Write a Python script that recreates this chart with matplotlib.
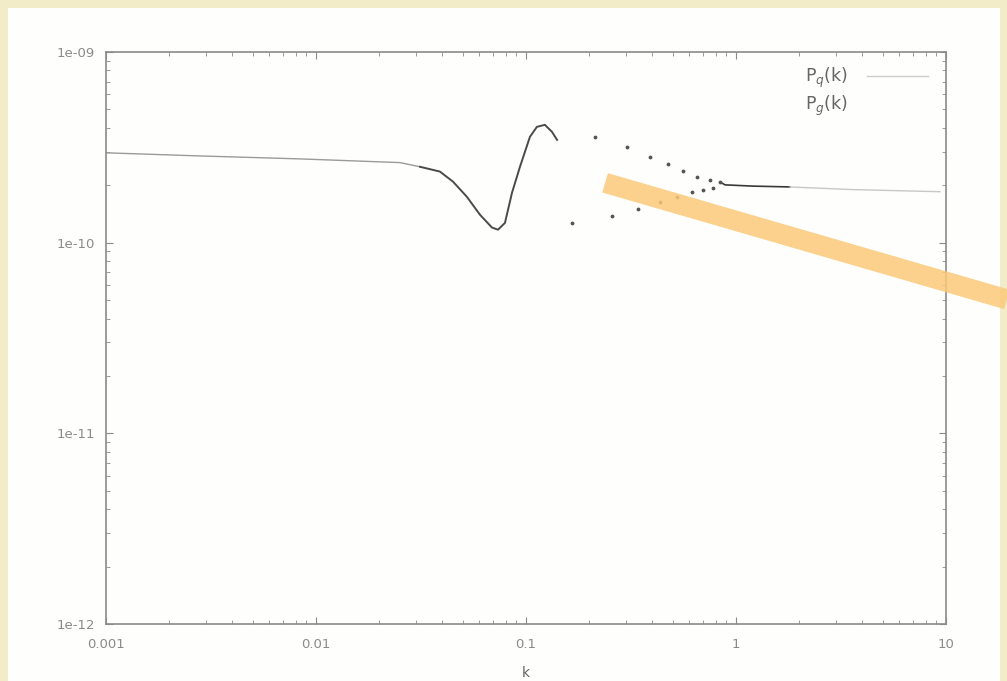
import matplotlib
matplotlib.use("Agg")
import matplotlib.pyplot as plt
from matplotlib.patches import Rectangle
from matplotlib.lines import Line2D

# P_q(k): flat part at low k
k_flat = [0.001, 0.0028, 0.0084, 0.0251, 0.0313]
p_flat = [2.96e-10, 2.85e-10, 2.75e-10, 2.63e-10, 2.50e-10]

# P_q(k): dip and first peak
k_line = [0.0313, 0.0389, 0.0449, 0.0523, 0.0604, 0.0689, 0.0736, 0.0794, 0.0858,
          0.0936, 0.1044, 0.1127, 0.1230, 0.1330, 0.1406]
p_line = [2.50e-10, 2.36e-10, 2.09e-10, 1.74e-10, 1.40e-10, 1.20e-10, 1.17e-10, 1.27e-10, 1.83e-10,
          2.50e-10, 3.59e-10, 4.05e-10, 4.15e-10, 3.81e-10, 3.46e-10]

# tail at high k
k_tail = [0.8394, 0.887, 1.2, 1.808]
p_tail = [2.08e-10, 2.01e-10, 1.98e-10, 1.96e-10]
k_tail2 = [1.808, 3.5, 9.36]
p_tail2 = [1.96e-10, 1.90e-10, 1.85e-10]

# oscillating points
k_dots = [0.1655, 0.2133, 0.2570, 0.3030, 0.3414, 0.3892, 0.4345, 0.4742, 0.5234,
          0.5595, 0.6170, 0.6516, 0.6966, 0.7520, 0.7770, 0.8394]
p_dots = [1.27e-10, 3.59e-10, 1.38e-10, 3.18e-10, 1.51e-10, 2.82e-10, 1.64e-10, 2.59e-10, 1.74e-10,
          2.38e-10, 1.85e-10, 2.22e-10, 1.89e-10, 2.14e-10, 1.94e-10, 2.08e-10]

# highlighter band
k_band = [0.238, 19.5]
p_band = [2.06e-10, 5.04e-11]

xticks = [0.001, 0.01, 0.1, 1, 10]
xtick_labels = ["0.001", "0.01", "0.1", "1", "10"]
yticks = [1e-12, 1e-11, 1e-10, 1e-9]
ytick_labels = ["1e-12", "1e-11", "1e-10", "1e-09"]

gray = "#8a8a8a"

fig = plt.figure(figsize=(10.07, 6.81), dpi=100)
fig.patch.set_facecolor("#f3ecc8")
fig.patches.append(Rectangle((8 / 1007, 0), 992 / 1007, 673 / 681, transform=fig.transFigure,
                             facecolor="#fefefc", edgecolor="none", zorder=-10))

ax = fig.add_axes([106 / 1007, 1 - 624 / 681, 840 / 1007, 572 / 681])
ax.set_facecolor("#fefefc")
ax.set_xscale("log")
ax.set_yscale("log")
ax.set_xlim(0.001, 10)
ax.set_ylim(1e-12, 1e-9)

ax.plot(k_flat, p_flat, color="#9a9a9a", lw=1.0)
ax.plot(k_line, p_line, color="#4a4a4a", lw=1.4)
ax.plot(k_tail, p_tail, color="#3a3a3a", lw=1.2)
ax.plot(k_tail2, p_tail2, color="#c8c8c8", lw=1.0)
ax.plot(k_dots, p_dots, ".", color="#555555", ms=3.5)

ax.plot(k_band, p_band, color="#fbc97a", lw=14.5, alpha=0.85, solid_capstyle="butt",
        clip_on=False, zorder=5)

ax.set_xticks(xticks)
ax.set_xticklabels(xtick_labels)
ax.set_yticks(yticks)
ax.set_yticklabels(ytick_labels)
ax.tick_params(which="both", direction="in", top=True, right=True, colors=gray, labelsize=9.5)
ax.tick_params(which="major", length=5)
ax.tick_params(which="minor", length=3)
ax.tick_params(axis="x", pad=10)
ax.tick_params(axis="y", pad=8)
for s in ax.spines.values():
    s.set_color("#8a8a8a")
    s.set_linewidth(1.2)

ax.set_xlabel("k", color="#666666", fontsize=10, labelpad=11)

handles = [Line2D([], [], color="#cccccc", lw=1), Line2D([], [], color="none")]
ax.legend(handles, [r"P$_q$(k)", r"P$_g$(k)"], loc="upper right", frameon=False,
          markerfirst=False, handlelength=3.5, fontsize=12.5, labelcolor="#666666",
          borderaxespad=0.4, labelspacing=0.2, handletextpad=1.1,
          bbox_to_anchor=(0.995, 1.0))

fig.savefig("out.png", dpi=100, facecolor=fig.get_facecolor())
